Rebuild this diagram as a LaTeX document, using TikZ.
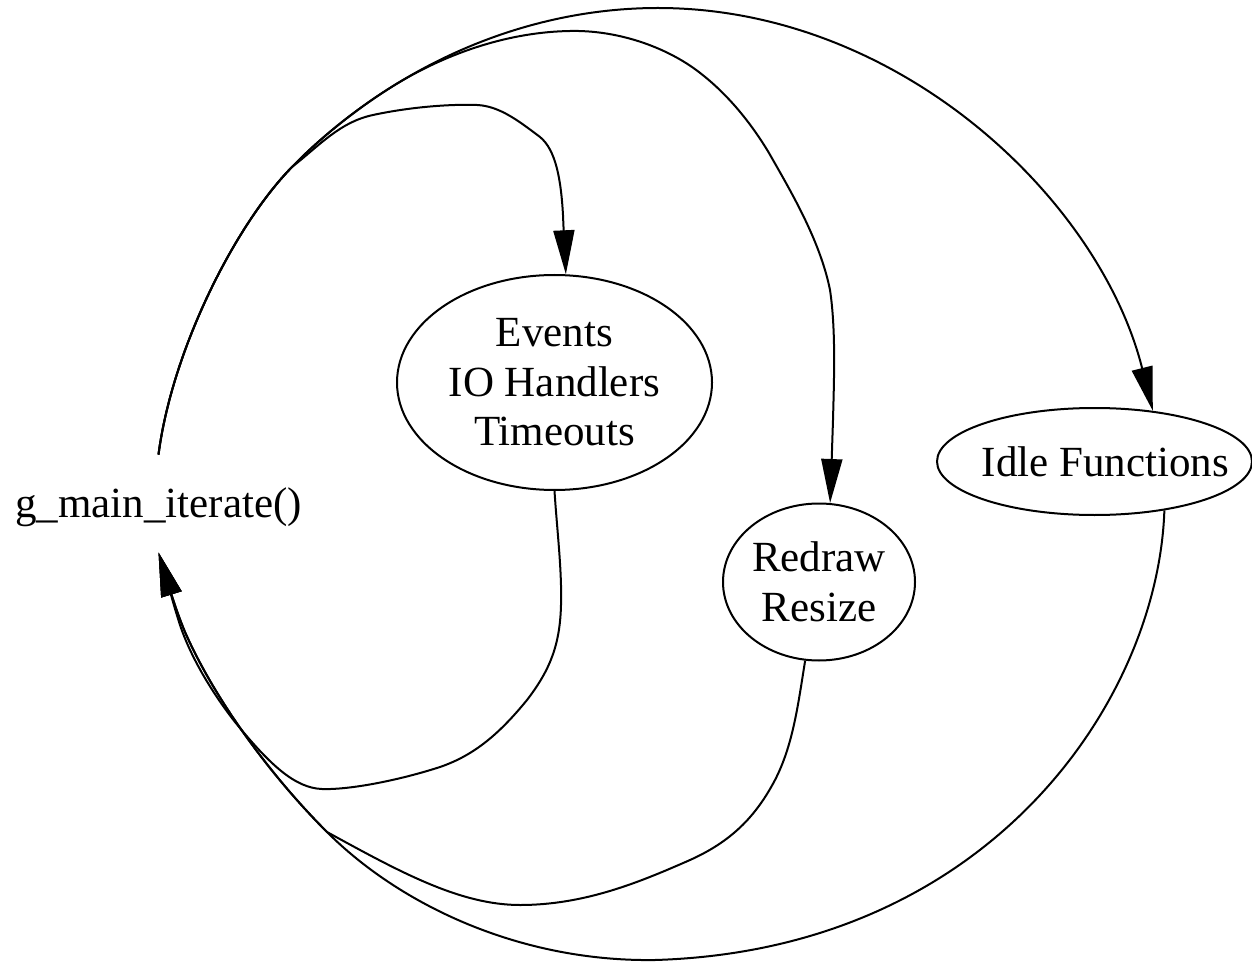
\documentclass[tikz,border=0pt]{standalone}
\usepackage{fontspec}
\setmainfont{Liberation Serif}
\usetikzlibrary{shapes.geometric,arrows.meta}
\begin{document}
\begin{tikzpicture}[x=0.5pt,y=-0.5pt,
  labelfont/.style={font=\fontsize{21.5}{24.75}\selectfont},
  state/.style={ellipse,draw,line width=1pt,inner sep=0pt,align=center,labelfont},
  plaintext/.style={inner sep=0pt,labelfont},
  edge/.style={line width=1pt,-{Triangle[length=22pt,width=10.5pt]}}]
\useasboundingbox (0,0) rectangle (1252,962);

% nodes
\node[plaintext,anchor=base,text height=31pt,text depth=17.5pt] (g) at (158.5,517) {g\_main\_iterate()};
\node[state,minimum width=157.5pt,minimum height=107.5pt] (ev) at (554.5,382.5) {Events\\IO Handlers\\Timeouts};
\node[state,minimum width=96pt,minimum height=78.5pt] (rd) at (819,582) {Redraw\\Resize};
\node[state,minimum width=157.5pt,minimum height=53.5pt,inner xsep=-12pt] (idle) at (1094.5,461.5) {\hspace*{11pt}Idle Functions};

% g_main_iterate() -> Events
\draw[edge] (g.north) .. controls (172,350) and (235,225) .. (292,167)
  .. controls (320,145) and (340,122) .. (373,115)
  .. controls (410,107) and (450,104) .. (477,105)
  .. controls (500,106) and (520,122) .. (540,137)
  .. controls (556,150) and (561,180) .. (563,215)
  .. controls (564,240) and (565,255) .. (ev.84);

% g_main_iterate() -> Redraw
\draw[edge] (g.north) .. controls (172,350) and (235,225) .. (292,167)
  .. controls (322,136) and (360,106) .. (398,83)
  .. controls (450,52) and (510,32) .. (570,31)
  .. controls (615,30) and (660,45) .. (692,67)
  .. controls (722,88) and (748,118) .. (769,153)
  .. controls (790,190) and (820,240) .. (830,290)
  .. controls (836,330) and (834,380) .. (833,420)
  .. controls (832,450) and (831,480) .. (rd.82);

% g_main_iterate() -> Idle Functions
\draw[edge] (g.north) .. controls (172,350) and (235,225) .. (292,167)
  .. controls (322,136) and (360,106) .. (398,83)
  .. controls (480,33) and (570,8) .. (658,8)
  .. controls (900,8) and (1100,200) .. (idle.41);

% Events -> g_main_iterate()
\draw[edge] (ev.south) .. controls (557,530) and (562,570) .. (561,605)
  .. controls (560,645) and (550,670) .. (527,700)
  .. controls (500,733) and (475,755) .. (440,767)
  .. controls (400,780) and (350,790) .. (322,789)
  .. controls (295,788) and (270,765) .. (235,722)
  .. controls (210,690) and (190,655) .. (180,625)
  .. controls (172,600) and (167,580) .. (g.south);

% Redraw -> g_main_iterate()
\draw[edge] (rd.-100) .. controls (798,705) and (793,745) .. (775,780)
  .. controls (755,818) and (730,842) .. (690,860)
  .. controls (640,882) and (585,905) .. (520,905)
  .. controls (460,905) and (400,872) .. (327,832)
  .. controls (270,775) and (215,700) .. (185,632)
  .. controls (175,608) and (167,580) .. (g.south);

% Idle Functions -> g_main_iterate()
\draw[edge] (idle.-35) .. controls (1158,700) and (990,950) .. (655,960)
  .. controls (520,962) and (400,905) .. (327,832)
  .. controls (270,775) and (215,700) .. (185,632)
  .. controls (175,608) and (167,580) .. (g.south);
\end{tikzpicture}
\end{document}
